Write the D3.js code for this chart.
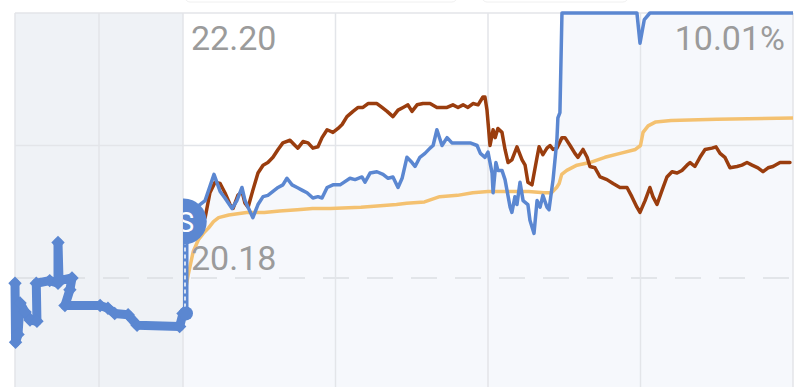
<!DOCTYPE html>
<html>
<head>
<meta charset="utf-8">
<script type="text/javascript" src="https://cdn.jsdelivr.net/npm/d3@7"></script>
<style>
body { margin: 0; background: #fff; }
</style>
</head>
<body>
<div id="viz"></div>
<script type="text/javascript">

// values: [minute, price]
var preSession = [[0,20.14],[0.05,19.69],[0.27,19.75],[0.45,19.99],[0.9,19.92],[1.34,19.86],[1.96,19.85],[1.9,20.14],
    [3.1,20.16],[3.84,20.14],[3.84,20.45],[3.93,20.16],[5.09,20.18],[4.9,20.09],[4.46,19.97],[7.6,19.97],
    [8.3,19.95],[8.9,19.91],[10.1,19.90],[10.9,19.82],[14.7,19.81],[15,19.91]];

var stockPrice = [[0,19.91],[0.6,20.62],[4,20.70],[8.7,20.77],[12.2,20.97],[14.6,20.84],[16.5,20.79],[19.3,20.71],
    [21.2,20.77],[23.2,20.87],[24.4,20.77],[25.6,20.72],[27.5,20.64],[29.5,20.74],[31.5,20.80],[33.4,20.81],
    [35.4,20.84],[37.4,20.87],[39.3,20.89],[40.9,20.94],[42.9,20.89],[44.9,20.87],[46.8,20.85],[48.8,20.83],
    [51.1,20.79],[53.1,20.80],[54.7,20.79],[56.7,20.87],[59.0,20.89],[61.8,20.89],[65.7,20.94],[67.7,20.93],
    [70.4,20.95],[71.6,20.91],[73.6,20.98],[76.3,20.99],[78.7,20.97],[80.7,20.94],[82.6,20.95],[84.6,20.87],
    [86.2,20.94],[88.1,21.10],[90.1,21.06],[91.3,21.03],[93.2,21.10],[95.2,21.13],[97.2,21.17],[98.4,21.19],
    [99.9,21.31],[101.9,21.19],[103.9,21.25],[105.8,21.21],[108.2,21.21],[113,21.21],[115.7,21.19],[117,21.13],
    [118.8,21.10],[120,21.14],[121.6,20.98],[122,20.83],[123.1,21.06],[123.9,21.00],[125.5,21.00],[126.7,20.93],
    [128.7,20.72],[129.4,20.68],[130.6,20.80],[131.4,20.74],[132.6,20.91],[133.8,20.77],[135.7,20.74],[136.5,20.62],
    [138.1,20.52],[139.3,20.77],[140.5,20.72],[141.6,20.81],[143.2,20.72],[144.0,20.70],[145.6,20.93],[147.1,21.23],
    [147.5,21.40],[148.3,21.44],[149.1,22.20],[178.6,22.20],[179.8,21.97],[181.5,22.15],[183.7,22.20],[240,22.20]];

var indexLine = [[8.7,20.64],[10.6,20.83],[12.6,20.91],[14.6,20.90],[16.5,20.83],[18.5,20.74],[19.7,20.71],[21.6,20.81],
    [23.2,20.84],[24.4,20.75],[25.6,20.72],[27.5,20.85],[29.5,20.98],[31.5,21.04],[33.4,21.06],[35.4,21.10],
    [37.4,21.16],[39.3,21.21],[42.1,21.23],[44.1,21.19],[45.2,21.17],[47.2,21.22],[49.2,21.21],[51.1,21.17],
    [53.1,21.18],[54.7,21.25],[56.7,21.31],[59.0,21.29],[61.0,21.32],[62.6,21.35],[64.5,21.41],[66.9,21.45],
    [68.9,21.48],[70.8,21.48],[72.8,21.51],[76.3,21.51],[78.3,21.48],[80.3,21.45],[82.6,21.41],[84.6,21.46],
    [86.6,21.48],[88.5,21.50],[90.1,21.45],[92.1,21.50],[94.4,21.51],[97.2,21.51],[99.9,21.48],[101.9,21.48],
    [103.9,21.48],[106.2,21.50],[108.2,21.48],[110.2,21.50],[112.1,21.48],[114.1,21.51],[116.1,21.50],[118.0,21.56],
    [118.8,21.56],[119.6,21.46],[120.8,21.19],[122.0,21.31],[122.8,21.25],[123.9,21.32],[125.5,21.29],[126.7,21.16],
    [127.9,21.06],[129.4,21.08],[131.4,21.18],[133.4,21.08],[134.6,21.04],[135.7,20.91],[137.3,20.89],[139.3,21.10],
    [140.1,21.18],[141.6,21.12],[143.2,21.17],[144.4,21.19],[145.6,21.16],[147.1,21.17],[149.1,21.25],[150.3,21.25],
    [152.3,21.19],[154.2,21.13],[155.4,21.10],[157.4,21.16],[159.0,21.10],[160.1,21.03],[162.1,21.02],[164.1,20.95],
    [166.8,20.93],[169.2,20.90],[171.9,20.87],[174.7,20.87],[176.6,20.80],[178.6,20.72],[179.8,20.68],[181.8,20.77],
    [183.7,20.87],[184.9,20.80],[186.5,20.74],[188.5,20.85],[190.4,20.95],[192.4,20.99],[194.4,20.98],[196.3,21.00],
    [198.3,21.04],[199.5,21.06],[201.4,21.03],[203.4,21.10],[205.4,21.16],[208.1,21.17],[209.7,21.18],[211.3,21.13],
    [213.2,21.10],[215.2,21.02],[218.0,21.03],[219.9,21.04],[221.9,21.06],[223.9,21.04],[226.2,21.02],[228.2,20.99],
    [230.2,21.02],[232.1,21.03],[234.9,21.06],[236.8,21.06],[238.8,21.06]];

var avgPrice = [[0,20.01],[1,20.09],[2,20.20],[4,20.38],[6,20.47],[8,20.52],[10,20.56],[12,20.61],[14,20.64],
    [18,20.66],[25,20.68],[32,20.68],[38,20.69],[45,20.70],[51,20.71],[58,20.71],[70,20.72],[84,20.74],[88,20.75],
    [95,20.76],[101,20.80],[108,20.81],[114,20.83],[120,20.84],[128,20.84],[136,20.84],[142,20.83],[145,20.83],
    [147,20.87],[148,20.90],[149,20.97],[151,21.00],[155,21.04],[160,21.06],[166,21.10],[172,21.13],[178,21.16],
    [180,21.19],[181,21.29],[183,21.34],[186,21.37],[192,21.38],[210,21.39],[240,21.40]];

var tradeMarks = [{t: 0.3, price: 20.61, label: "S"}];

var prevClose = 20.18;
var limitUp = 22.20;
var priceTicks = [22.20, 21.19, 20.18, 19.17];
var mainTicks = [0, 60, 120, 180, 240];
var preTicks = [0, 7.5];
var labelTop = "22.20";
var labelBottom = "20.18";
var labelPct = "10.01%";

var W = 810, H = 387;
var xPre = d3.scaleLinear().domain([0, 15]).range([15, 183]);
var xMain = d3.scaleLinear().domain([0, 240]).range([183, 793]);
var y = d3.scaleLinear().domain([prevClose, limitUp]).range([278, 13]);

var svg = d3.select("#viz").append("svg")
    .attr("width", W).attr("height", H)
    .style("display", "block");

// faint tooltip boxes peeking at the top
svg.selectAll("rect.tip")
    .data([[185, 457], [482, 628]])
    .enter().append("rect")
    .attr("x", function(d){return d[0];})
    .attr("y", -10)
    .attr("width", function(d){return d[1]-d[0];})
    .attr("height", 12)
    .attr("rx", 5)
    .attr("fill", "#fff")
    .attr("stroke", "#f0f0f0");

var defs = svg.append("defs");
defs.append("clipPath").attr("id", "clipMain")
    .append("rect").attr("x", xMain(0)).attr("y", 0)
    .attr("width", xMain(240)-xMain(0)).attr("height", H);

// pre-market panel background
svg.append("rect")
    .attr("x", xPre(0)).attr("y", y(limitUp))
    .attr("width", xPre(15)-xPre(0)).attr("height", H-y(limitUp))
    .attr("fill", "#eff2f6");

// area under stock price
var area = d3.area()
    .x(function(d){return xMain(d[0]);})
    .y0(H)
    .y1(function(d){return y(d[1]);});
svg.append("path")
    .datum(stockPrice)
    .attr("clip-path", "url(#clipMain)")
    .attr("d", area)
    .attr("fill", "#f6f8fc");

// grid
var grid = svg.append("g").attr("stroke", "#e3e5e9").attr("stroke-width", 1.5);
grid.selectAll("line.h")
    .data(priceTicks)
    .enter().append("line")
    .attr("x1", xPre(0)).attr("x2", xMain(240))
    .attr("y1", function(d){return y(d);})
    .attr("y2", function(d){return y(d);})
    .attr("stroke-dasharray", function(d){return d === prevClose ? "26 18" : null;})
    .attr("stroke", function(d){return d === prevClose ? "#dcdee2" : null;});
grid.selectAll("line.v")
    .data(preTicks.map(xPre).concat(mainTicks.map(xMain)))
    .enter().append("line")
    .attr("x1", function(d){return d;}).attr("x2", function(d){return d;})
    .attr("y1", y(limitUp)).attr("y2", H);

var line = function(xs){
    return d3.line()
        .x(function(d){return xs(d[0]);})
        .y(function(d){return y(d[1]);});
};

var plot = svg.append("g").attr("fill", "none")
    .attr("stroke-linejoin", "round").attr("stroke-linecap", "round");

plot.append("path").datum(avgPrice)
    .attr("clip-path", "url(#clipMain)")
    .attr("d", line(xMain))
    .attr("stroke", "#f4c170").attr("stroke-width", 3.5);

plot.append("path").datum(indexLine)
    .attr("d", line(xMain))
    .attr("stroke", "#9a3d0e").attr("stroke-width", 3.5);

plot.append("path").datum(stockPrice)
    .attr("clip-path", "url(#clipMain)")
    .attr("d", line(xMain))
    .attr("stroke", "#5b87d1").attr("stroke-width", 3.5);

// pre-market auction line: thick with diamond markers
plot.append("path").datum(preSession)
    .attr("d", line(xPre))
    .attr("stroke", "#5b87d1").attr("stroke-width", 9);
svg.append("g").selectAll("path")
    .data(preSession)
    .enter().append("path")
    .attr("d", d3.symbol(d3.symbolSquare).size(90))
    .attr("transform", function(d){return "translate(" + xPre(d[0]) + "," + y(d[1]) + ") rotate(45)";})
    .attr("fill", "#5b87d1");

// connector from opening dot to trade mark
var mk = tradeMarks[0];
var gMark = svg.append("g").attr("clip-path", "url(#clipMain)");
gMark.append("line")
    .attr("x1", xMain(0)+2).attr("x2", xMain(0)+2)
    .attr("y1", y(stockPrice[0][1])).attr("y2", y(mk.price))
    .attr("stroke", "#5b87d1").attr("stroke-width", 7);
gMark.append("line")
    .attr("x1", xMain(0)+2).attr("x2", xMain(0)+2)
    .attr("y1", y(stockPrice[0][1])-6).attr("y2", y(mk.price)+20)
    .attr("stroke", "#fff").attr("stroke-width", 1.5)
    .attr("stroke-dasharray", "4 3");
gMark.selectAll("circle.mk")
    .data(tradeMarks)
    .enter().append("circle")
    .attr("cx", function(d){return xMain(d.t);})
    .attr("cy", function(d){return y(d.price);})
    .attr("r", 23)
    .attr("fill", "#5b87d1");
gMark.selectAll("text.mk")
    .data(tradeMarks)
    .enter().append("text")
    .attr("x", function(d){return xMain(d.t)+2;})
    .attr("y", function(d){return y(d.price)+10;})
    .attr("text-anchor", "middle")
    .attr("font-family", "Roboto, sans-serif")
    .attr("font-size", 28)
    .attr("fill", "#fff")
    .text(function(d){return d.label;});

svg.append("circle")
    .attr("cx", xMain(0)+3).attr("cy", y(stockPrice[0][1]))
    .attr("r", 7).attr("fill", "#5b87d1");

// price labels
var labels = svg.append("g")
    .attr("font-family", "Roboto, sans-serif")
    .attr("font-size", 34)
    .attr("fill", "#9b9b9b");
labels.append("text")
    .attr("x", xMain(0)+8).attr("y", y(limitUp)+37)
    .text(labelTop);
labels.append("text")
    .attr("x", xMain(0)+8).attr("y", y(prevClose)-8)
    .text(labelBottom);
labels.append("text")
    .attr("x", xMain(240)-8).attr("y", y(limitUp)+37)
    .attr("text-anchor", "end")
    .text(labelPct);

</script>
</body>
</html>
